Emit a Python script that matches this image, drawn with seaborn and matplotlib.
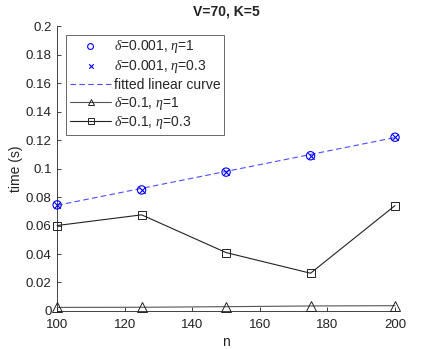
import matplotlib
matplotlib.use("Agg")
import matplotlib.pyplot as plt
import seaborn as sns
import pandas as pd
import numpy as np

sns.set_style("white")
plt.rcParams['font.family'] = ['Liberation Sans', 'DejaVu Sans']
plt.rcParams['mathtext.fontset'] = 'custom'
plt.rcParams['mathtext.it'] = 'Liberation Serif:italic'
plt.rcParams['mathtext.rm'] = 'Liberation Sans'

n = [100, 125, 150, 175, 200]
t_d001_e1 = [0.0745, 0.0850, 0.0975, 0.1090, 0.1220]
t_d001_e03 = [0.0745, 0.0850, 0.0975, 0.1090, 0.1220]
t_fit = [0.0742, 0.0861, 0.0980, 0.1099, 0.1218]
t_d01_e1 = [0.0025, 0.0026, 0.0030, 0.0035, 0.0037]
t_d01_e03 = [0.0600, 0.0675, 0.0410, 0.0265, 0.0740]
yticks = [0, 0.02, 0.04, 0.06, 0.08, 0.1, 0.12, 0.14, 0.16, 0.18, 0.2]
xticks = [100, 120, 140, 160, 180, 200]

df = pd.DataFrame({"n": n, "a": t_d001_e1, "b": t_d001_e03, "fit": t_fit,
                   "c": t_d01_e1, "d": t_d01_e03})

fig = plt.figure(figsize=(4.36, 3.49), dpi=100)
ax = fig.add_axes([0.131, 0.109, 0.775, 0.816])

blue = "#0000ff"
sns.scatterplot(data=df, x="n", y="a", ax=ax, marker="o", s=36, facecolors="none",
                edgecolor=blue, linewidth=0.8, label=r"$\delta$=0.001, $\eta$=1",
                zorder=4, clip_on=False)
sns.scatterplot(data=df, x="n", y="b", ax=ax, marker="x", s=22, color=blue,
                linewidth=0.8, label=r"$\delta$=0.001, $\eta$=0.3", zorder=4, clip_on=False)
sns.lineplot(data=df, x="n", y="fit", ax=ax, color="#4d4dff", linestyle=(0, (5, 3)),
             linewidth=0.8, label="fitted linear curve", zorder=3)
sns.lineplot(data=df, x="n", y="c", ax=ax, color="#555555", marker="^", markersize=7,
             markerfacecolor="none", markeredgecolor="#222222", markeredgewidth=0.7,
             linewidth=0.8, label=r"$\delta$=0.1, $\eta$=1", zorder=3, clip_on=False)
sns.lineplot(data=df, x="n", y="d", ax=ax, color="#222222", marker="s", markersize=6,
             markerfacecolor="none", markeredgecolor="#222222", markeredgewidth=0.7,
             linewidth=0.8, label=r"$\delta$=0.1, $\eta$=0.3", zorder=3, clip_on=False)

ax.set_xlim(100, 200)
ax.set_ylim(0, 0.2)
ax.set_xticks(xticks)
ax.set_yticks(yticks)
ax.set_yticklabels([f"{v:g}" for v in yticks])
ax.set_xticklabels([str(v) for v in xticks])
ax.tick_params(direction="in", length=3, width=0.6, labelsize=9.5, colors="#222222",
               left=True, bottom=True)
ax.tick_params(axis="x", pad=6)
ax.tick_params(axis="y", pad=4)
for s in ["top", "right"]:
    ax.spines[s].set_visible(False)
for s in ["left", "bottom"]:
    ax.spines[s].set_color("#222222")
    ax.spines[s].set_linewidth(0.6)
ax.set_xlabel("n", fontsize=10, color="#222222", labelpad=3)
ax.set_ylabel("time (s)", fontsize=10, color="#222222", labelpad=2)
ax.set_title("V=70, K=5", fontsize=10, fontweight="bold", color="#222222", pad=8)

leg = ax.legend(loc="upper left", bbox_to_anchor=(0.027, 0.97), fontsize=10,
                frameon=True, fancybox=False, handlelength=3.0, handletextpad=0.2,
                borderpad=0.25, labelspacing=0.2, borderaxespad=0, markerscale=0.7)
leg.get_frame().set_edgecolor("#222222")
leg.get_frame().set_linewidth(0.6)

fig.savefig("out.png", dpi=100)
